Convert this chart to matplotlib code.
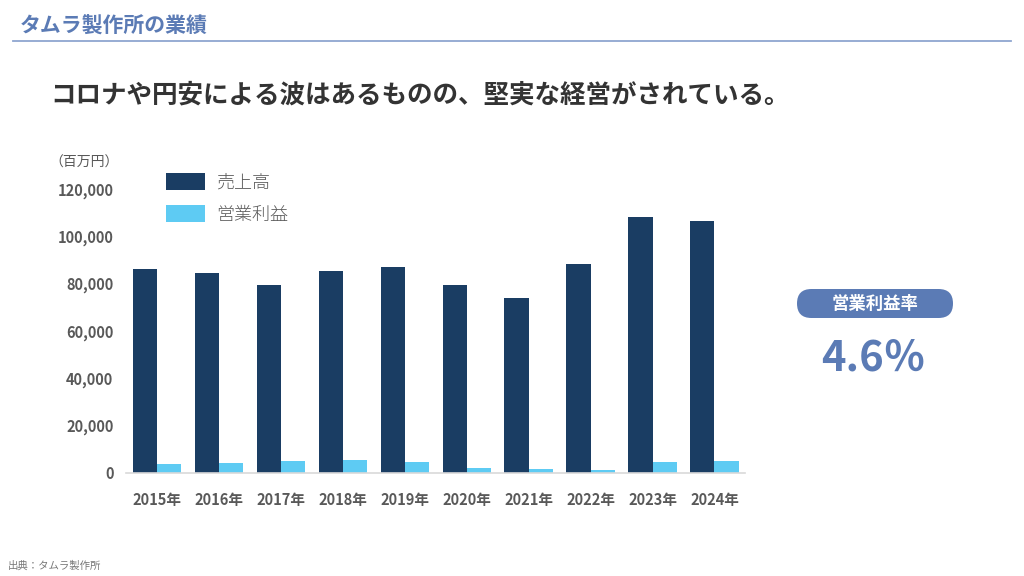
import numpy as np
import matplotlib
matplotlib.use('Agg')
import matplotlib.pyplot as plt
from matplotlib.patches import FancyBboxPatch
from matplotlib.transforms import IdentityTransform
from matplotlib.lines import Line2D

plt.rcParams['font.family'] = ['Noto Sans CJK JP', 'DejaVu Sans']

years = ['2015年', '2016年', '2017年', '2018年', '2019年',
         '2020年', '2021年', '2022年', '2023年', '2024年']
sales = [86200, 84500, 79400, 85300, 87000, 79400, 73900, 88300, 108200, 106500]
op_profit = [3900, 4200, 5100, 5400, 4500, 2200, 1800, 1300, 4800, 4900]
yticks = [0, 20000, 40000, 60000, 80000, 100000, 120000]

dark = '#1a3d63'
light = '#5ecbf3'
accent = '#5b7bb5'
gray = '#595959'

fig = plt.figure(figsize=(10.24, 5.76), dpi=100)
ax = fig.add_axes([0.123, 0.179, 0.605, 0.493])

x = np.arange(len(years))
w = 0.39
ax.bar(x - w / 2, sales, width=w, color=dark, label='売上高')
ax.bar(x + w / 2, op_profit, width=w, color=light, label='営業利益')

ax.set_xlim(-0.5, 9.5)
ax.set_ylim(0, 120000)
ax.set_yticks(yticks)
ax.set_yticklabels([f'{v:,}' for v in yticks], fontsize=10.5, fontweight='bold', color=gray)
ax.set_xticks(x)
ax.set_xticklabels(years, fontsize=10.5, fontweight='bold', color=gray)
ax.tick_params(axis='y', length=0, pad=9)
ax.tick_params(axis='x', length=0, pad=14)
for s in ['top', 'right', 'left']:
    ax.spines[s].set_visible(False)
ax.spines['bottom'].set_color('#d9d9d9')
ax.spines['bottom'].set_linewidth(1.2)

# legend
leg = ax.legend(loc='upper left', bbox_to_anchor=(0.038, 1.115), frameon=False,
                prop={'size': 13, 'weight': 'light'}, handlelength=2.2, handleheight=1.1,
                labelspacing=0.75, handletextpad=0.6)
for t in leg.get_texts():
    t.set_color(gray)

fig.text(0.048, 0.718, '（百万円）', fontsize=10, color=gray, va='center')

# header
fig.text(0.019, 0.955, 'タムラ製作所の業績', fontsize=15, fontweight='bold',
         color=accent, va='center')
fig.add_artist(Line2D([0.013, 0.987], [0.929, 0.929], color='#8fa6d0', lw=1.3))

fig.text(0.049, 0.835, 'コロナや円安による波はあるものの、堅実な経営がされている。',
         fontsize=18.4, fontweight='bold', color='#333333', va='center')

# operating margin box
box = FancyBboxPatch((797, 258), 156, 29, boxstyle='round,pad=0,rounding_size=14.5',
                     transform=IdentityTransform(), facecolor=accent, edgecolor='none')
fig.add_artist(box)
fig.text(875 / 1024, (258 + 14.5) / 576, '営業利益率', fontsize=12.5, fontweight='bold',
         color='white', ha='center', va='center')
fig.text(873 / 1024, 0.378, '4.6％', fontsize=30, fontweight='bold', color=accent,
         ha='center', va='center')

fig.text(0.008, 0.018, '出典：タムラ製作所', fontsize=7.5, color='#777777', va='center')

fig.savefig('out.png', dpi=100)
